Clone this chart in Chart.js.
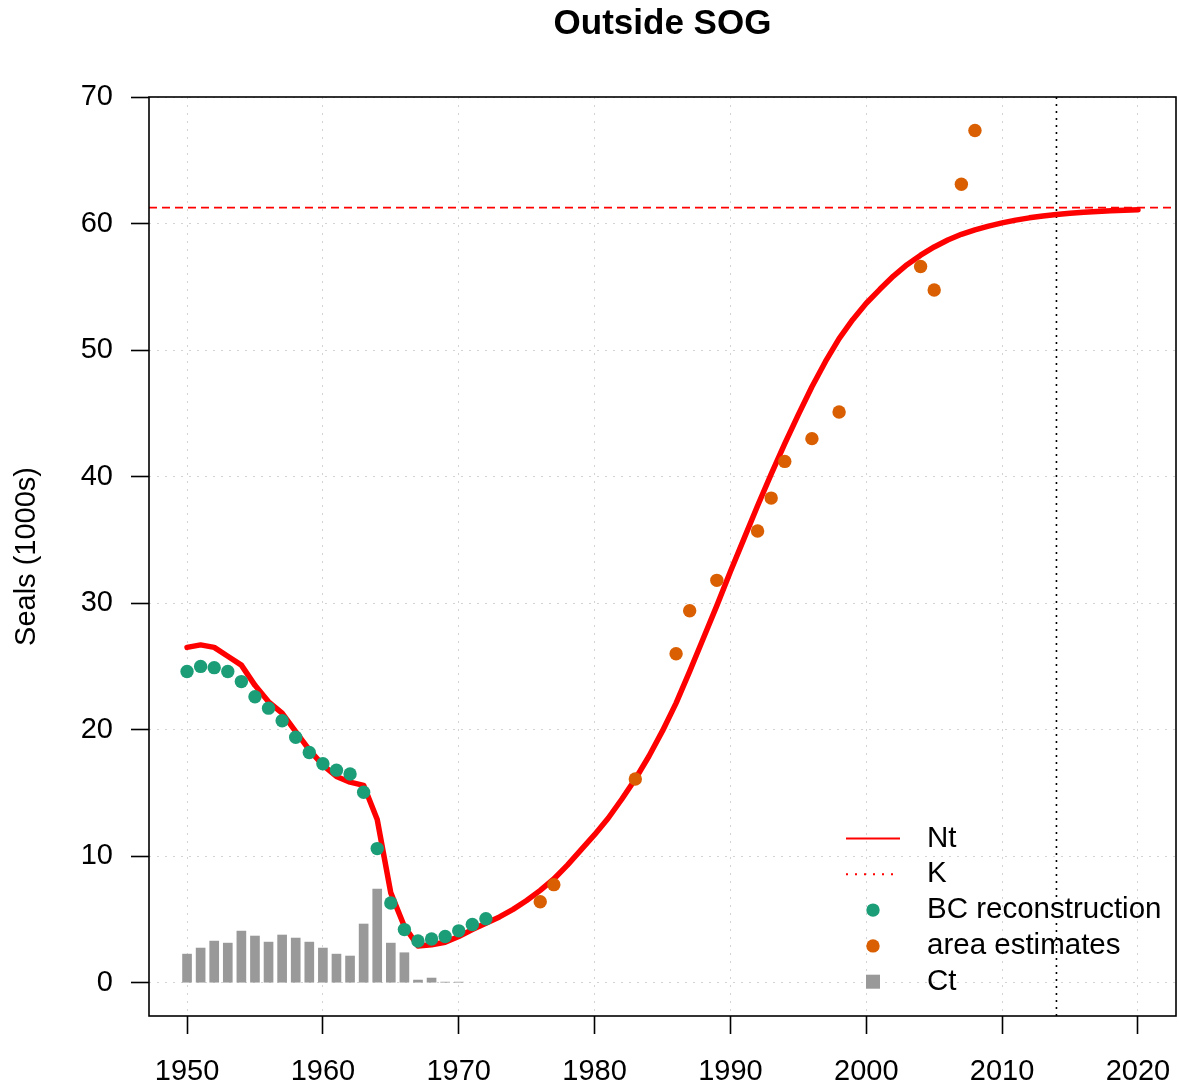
<!DOCTYPE html>
<html>
<head>
<meta charset="utf-8">
<title>Outside SOG</title>
<script src="https://cdn.jsdelivr.net/npm/chart.js@4"></script>
<style>
  html, body { margin: 0; padding: 0; background: #fff; }
  #wrap { width: 1179px; height: 1086px; }
</style>
</head>
<body>
<div id="wrap"><canvas id="sealChart" width="1179" height="1086"></canvas></div>
<script>
// model trajectory Nt, 1950-2020 (thousands of seals)
const ntStart = 1950;
const ntValues = [
  26.5, 26.7, 26.5, 25.8, 25.1, 23.5, 22.2, 21.3, 19.85, 18.4,
  17.2, 16.3, 15.85, 15.6, 12.9, 7.1, 4.45, 2.9, 3.0, 3.2,
  3.65, 4.2, 4.7, 5.2, 5.8, 6.5, 7.3, 8.2, 9.3, 10.5,
  11.7, 13.0, 14.5, 16.1, 17.9, 19.9, 22.1, 24.6, 27.2, 29.8,
  32.5, 35.1, 37.7, 40.2, 42.6, 44.9, 47.1, 49.1, 50.9, 52.4,
  53.7, 54.8, 55.85, 56.75, 57.5, 58.15, 58.7, 59.15, 59.5, 59.8,
  60.05, 60.27, 60.45, 60.6, 60.72, 60.82, 60.9, 60.96, 61.01, 61.05,
  61.08
];

// BC reconstruction, 1950-1972
const bcStart = 1950;
const bcValues = [
  24.6, 25.0, 24.9, 24.6, 23.8, 22.6, 21.7, 20.7, 19.4, 18.2,
  17.3, 16.8, 16.5, 15.05, 10.6, 6.3, 4.2, 3.3, 3.45, 3.65,
  4.1, 4.6, 5.05
];

// survey-based area estimates
const areaYears = [1976, 1977, 1983, 1986, 1987, 1989, 1992, 1993, 1994, 1996, 1998, 2004, 2005, 2007, 2008];
const areaValues = [6.4, 7.75, 16.1, 26.0, 29.4, 31.8, 35.7, 38.3, 41.2, 43.0, 45.1, 56.6, 54.75, 63.1, 67.35];

// catch Ct, 1950-1970
const ctStart = 1950;
const ctValues = [
  2.26, 2.74, 3.29, 3.13, 4.08, 3.69, 3.21, 3.77, 3.53, 3.21,
  2.74, 2.26, 2.11, 4.64, 7.40, 3.13, 2.37, 0.21, 0.37, 0.05,
  0.05
];

const carryingK = 61.25;
const refYear = 2014;

const xTicks = [1950, 1960, 1970, 1980, 1990, 2000, 2010, 2020];
const yTicks = [0, 10, 20, 30, 40, 50, 60, 70];

const RED = '#FF0000';
const GREEN = '#1B9E77';
const ORANGE = '#D95F02';
const GREY = '#999999';
const FONT = '"Liberation Sans", Arial, Helvetica, sans-serif';

const legendItems = [
  { label: 'Nt', kind: 'line', color: RED },
  { label: 'K', kind: 'dots', color: RED },
  { label: 'BC reconstruction', kind: 'circle', color: GREEN },
  { label: 'area estimates', kind: 'circle', color: ORANGE },
  { label: 'Ct', kind: 'square', color: GREY }
];

const series = (start, vals) => vals.map((v, i) => ({ x: start + i, y: v }));

// K (horizontal) and reference year (vertical), like abline()
const refLines = {
  id: 'refLines',
  beforeDatasetsDraw(chart) {
    const { ctx, chartArea: a, scales: { x, y } } = chart;
    ctx.save();
    ctx.beginPath();
    ctx.rect(a.left, a.top, a.width, a.height);
    ctx.clip();

    const ky = y.getPixelForValue(carryingK);
    ctx.strokeStyle = RED;
    ctx.lineWidth = 1.8;
    ctx.setLineDash([8, 5]);
    ctx.beginPath();
    ctx.moveTo(a.left, ky);
    ctx.lineTo(a.right, ky);
    ctx.stroke();

    const rx = x.getPixelForValue(refYear);
    ctx.strokeStyle = '#000';
    ctx.lineWidth = 1.6;
    ctx.setLineDash([2, 5]);
    ctx.beginPath();
    ctx.moveTo(rx, a.top);
    ctx.lineTo(rx, a.bottom);
    ctx.stroke();
    ctx.restore();
  }
};

// box around the plotting region
const plotBox = {
  id: 'plotBox',
  afterDraw(chart) {
    const { ctx, chartArea: a } = chart;
    ctx.save();
    ctx.strokeStyle = '#000';
    ctx.lineWidth = 1.6;
    ctx.strokeRect(a.left, a.top, a.width, a.height);
    ctx.restore();
  }
};

// legend in the lower right, no frame
const bottomLegend = {
  id: 'bottomLegend',
  afterDraw(chart) {
    const { ctx, chartArea: a } = chart;
    const symX = a.right - 303;
    const textX = a.right - 249;
    ctx.save();
    ctx.font = '29.5px ' + FONT;
    ctx.textBaseline = 'middle';
    legendItems.forEach((item, i) => {
      const yy = a.bottom - 177.5 + i * 35.8;
      ctx.fillStyle = item.color;
      ctx.strokeStyle = item.color;
      if (item.kind === 'line') {
        ctx.lineWidth = 2;
        ctx.setLineDash([]);
        ctx.beginPath();
        ctx.moveTo(symX - 27, yy);
        ctx.lineTo(symX + 27, yy);
        ctx.stroke();
      } else if (item.kind === 'dots') {
        ctx.lineWidth = 2;
        ctx.setLineDash([2, 7]);
        ctx.beginPath();
        ctx.moveTo(symX - 27, yy);
        ctx.lineTo(symX + 22, yy);
        ctx.stroke();
        ctx.setLineDash([]);
      } else if (item.kind === 'circle') {
        ctx.beginPath();
        ctx.arc(symX, yy, 6.7, 0, Math.PI * 2);
        ctx.fill();
      } else {
        ctx.fillRect(symX - 7, yy - 7, 14, 14);
      }
      ctx.fillStyle = '#000';
      ctx.fillText(item.label, textX, yy);
    });
    ctx.restore();
  }
};

Chart.defaults.font.family = FONT;
Chart.defaults.color = '#000';

const gridStyle = {
  color: '#D3D3D3',
  lineWidth: 1,
  tickLength: 18,
  tickColor: '#000',
  tickWidth: 1.6,
  offset: false
};

new Chart(document.getElementById('sealChart'), {
  type: 'line',
  data: {
    datasets: [
      {
        label: 'BC reconstruction',
        data: series(bcStart, bcValues),
        showLine: false,
        pointRadius: 6.7,
        pointBorderWidth: 0,
        pointBackgroundColor: GREEN,
        order: 0
      },
      {
        label: 'area estimates',
        data: areaYears.map((yr, i) => ({ x: yr, y: areaValues[i] })),
        showLine: false,
        pointRadius: 6.7,
        pointBorderWidth: 0,
        pointBackgroundColor: ORANGE,
        order: 0
      },
      {
        label: 'Nt',
        data: series(ntStart, ntValues),
        borderColor: RED,
        borderWidth: 5.5,
        borderJoinStyle: 'round',
        borderCapStyle: 'round',
        pointRadius: 0,
        tension: 0,
        order: 1
      },
      {
        label: 'Ct',
        type: 'bar',
        data: series(ctStart, ctValues),
        backgroundColor: GREY,
        barThickness: 9,
        order: 2
      }
    ]
  },
  options: {
    responsive: false,
    animation: false,
    events: [],
    layout: { autoPadding: false, padding: { left: 0, right: 3, top: 0, bottom: 0 } },
    plugins: {
      legend: { display: false },
      tooltip: { enabled: false },
      title: {
        display: true,
        text: 'Outside SOG',
        fullSize: false,
        color: '#000',
        font: { size: 35, weight: 'bold' },
        padding: { top: 3, bottom: 52 }
      }
    },
    scales: {
      x: {
        type: 'linear',
        min: 1947.2,
        max: 2022.8,
        offset: false,
        afterBuildTicks: s => { s.ticks = xTicks.map(v => ({ value: v })); },
        afterFit: s => { s.height = 70; s.paddingLeft = 0; s.paddingRight = 0; },
        grid: gridStyle,
        border: { display: false, dash: [2, 6] },
        ticks: { font: { size: 29 }, color: '#000', padding: 21, maxRotation: 0, callback: v => String(v) }
      },
      y: {
        type: 'linear',
        min: -2.63,
        max: 70,
        afterBuildTicks: s => { s.ticks = yTicks.map(v => ({ value: v })); },
        afterFit: s => { s.width = 149; },
        grid: gridStyle,
        border: { display: false, dash: [2, 6] },
        ticks: { font: { size: 29 }, color: '#000', padding: 18, callback: v => String(v) },
        title: {
          display: true,
          text: 'Seals (1000s)',
          color: '#000',
          font: { size: 29 },
          padding: { top: 10, bottom: 0 }
        }
      }
    }
  },
  plugins: [refLines, plotBox, bottomLegend]
});
</script>
</body>
</html>
